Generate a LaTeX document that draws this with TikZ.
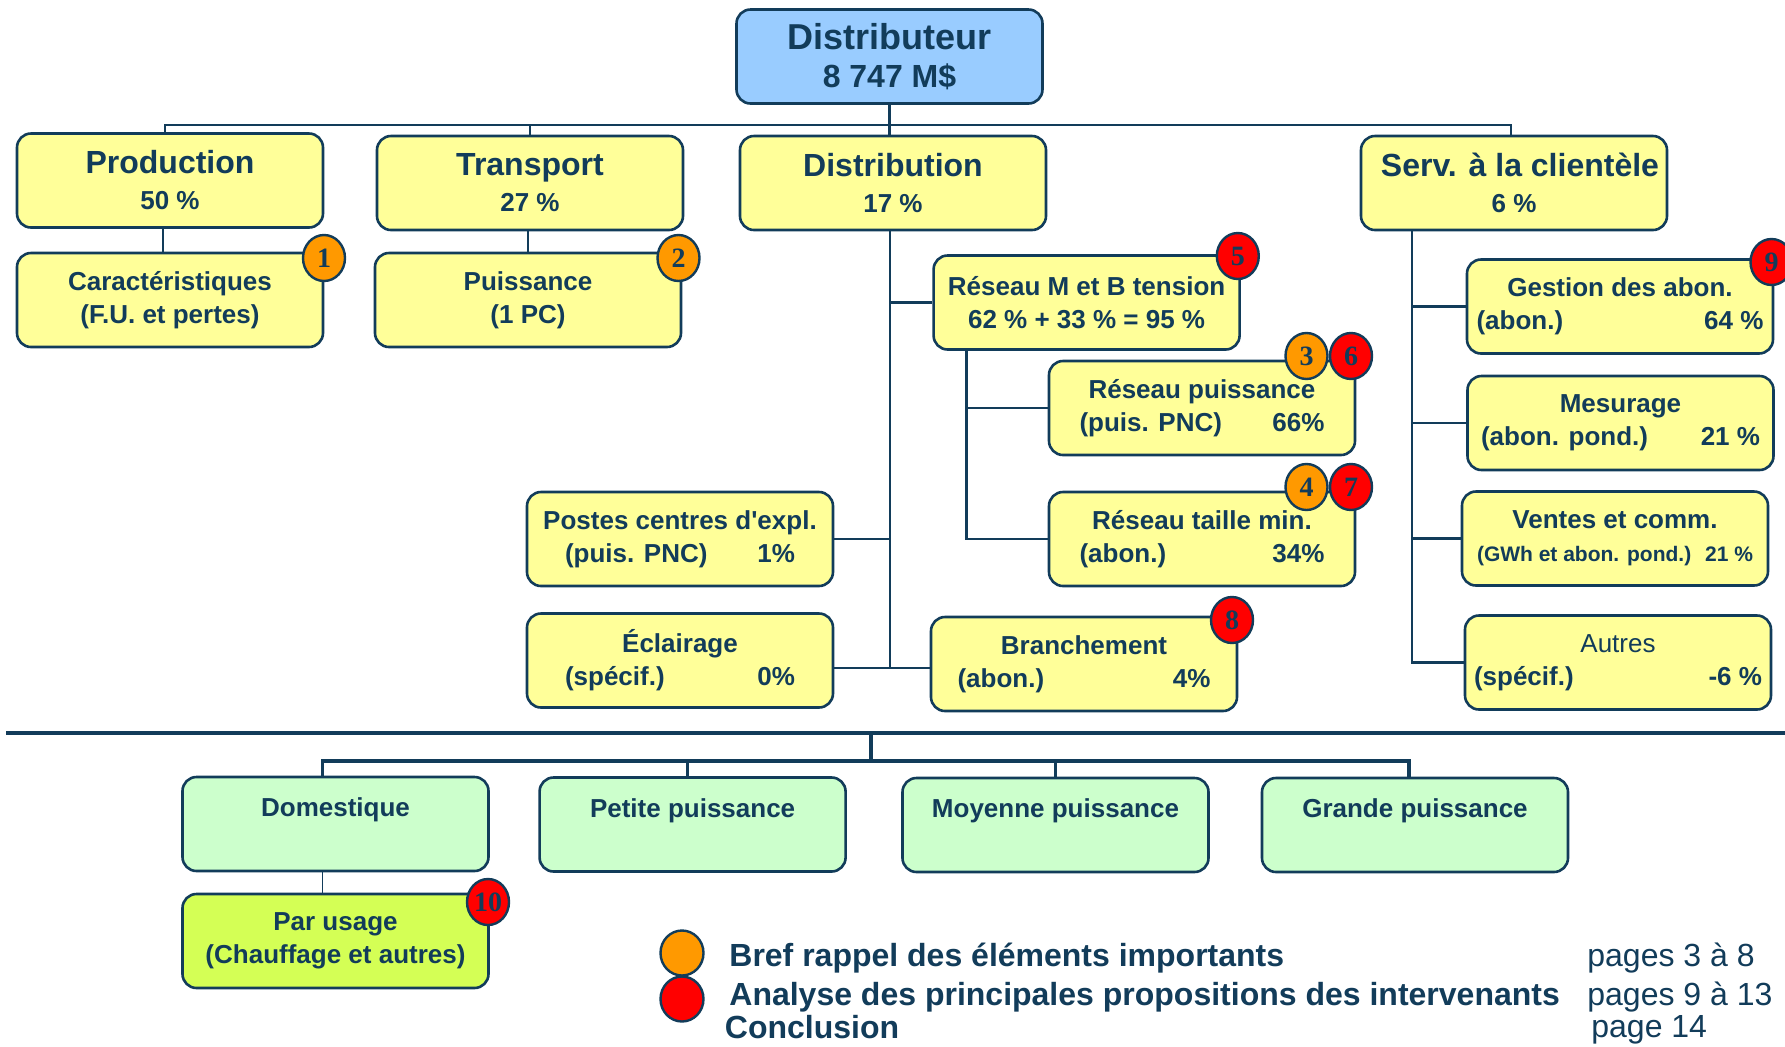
\documentclass[tikz,border=0pt]{standalone}
\usepackage{fontspec}
\setmainfont{Liberation Sans}
\newfontfamily\numfont{Liberation Serif}
\usetikzlibrary{positioning,shapes.geometric}
\definecolor{navy}{RGB}{18,60,90}
\definecolor{boxyellow}{RGB}{255,255,153}
\definecolor{boxblue}{RGB}{153,204,255}
\definecolor{boxgreen}{RGB}{204,255,204}
\definecolor{boxlime}{RGB}{212,255,85}
\definecolor{dotorange}{RGB}{255,153,0}
\definecolor{dotred}{RGB}{255,0,0}
\newcommand{\lr}[3]{\hbox to #1{#2\hfill #3}}
\newcommand{\hd}[1]{{\fontsize{16}{18}\selectfont #1}}

\begin{document}
\begin{tikzpicture}[x=0.5pt,y=-0.5pt,on grid,
every node/.style={text=navy},
box/.style={draw=navy,line width=1.3pt,rounded corners=7pt,fill=boxyellow,minimum width=153pt,minimum height=47pt,
  align=center,inner sep=2pt,font=\fontsize{13}{16.5}\selectfont\bfseries},
headbox/.style={box,font=\fontsize{13}{18}\selectfont\bfseries},
segbox/.style={box,fill=boxgreen},
link/.style={draw=navy,line width=1.2pt},
bus/.style={draw=navy,line width=1.8pt},
dot/.style={ellipse,draw=navy,line width=1.2pt,inner sep=0pt,minimum width=21pt,minimum height=23pt,
  font=\numfont\fontsize{14}{14}\selectfont\bfseries},
rappel/.style={dot,fill=dotorange},
analyse/.style={dot,fill=dotred},
legend/.style={anchor=base west,inner sep=0pt,font=\fontsize{16}{18}\selectfont\bfseries},
pages/.style={anchor=base west,inner sep=0pt,font=\fontsize{16}{18}\selectfont}]
\useasboundingbox[fill=white] (0,0) rectangle (1785,1046);

\node[box,fill=boxblue,font=\fontsize{16}{19}\selectfont\bfseries] (dist) at (889.5,56.5) {{\fontsize{18}{19}\selectfont Distributeur}\\8 747 M\$};
\node[headbox] (prod)  at (170,180.5) {\hd{Production}\\50 \%};
\node[headbox] (trans) at (530,183)   {\hd{Transport}\\27 \%};
\node[headbox] (distr) at (893,183)   {\hd{Distribution}\\17 \%};
\node[headbox] (serv)  at (1514,183)  {\hd{\hspace{6pt}Serv. à la clientèle}\\6 \%};

\node[box] (car)    at (170,300)      {Caractéristiques\\(F.U. et pertes)};
\node[box] (puis)   at (528,300)      {Puissance\\(1 PC)};
\node[box] (mbt)    at (1086.6,302.5) {Réseau M et B tension\\62 \% + 33 \% = 95 \%};
\node[box] (rpuis)  at (1202,408)     {Réseau puissance\\\lr{122.5pt}{(puis. PNC)}{66\%}};
\node[box] (rtai)   at (1202,539)     {Réseau taille min.\\\lr{122.5pt}{(abon.)}{34\%}};
\node[box] (postes) at (680,539)      {Postes centres d\textquotesingle expl.\\\lr{115pt}{(puis. PNC)}{1\%}};
\node[box] (ecl)    at (680,660.5)    {Éclairage\\\lr{115pt}{(spécif.)}{0\%}};
\node[box] (bran)   at (1084,664)     {Branchement\\\lr{126.5pt}{(abon.)}{4\%}};
\node[box] (gest)   at (1620,306.5)   {Gestion des abon.\\\lr{143.5pt}{(abon.)}{64 \%}};
\node[box] (mes)    at (1620.5,423)   {Mesurage\\\lr{139.5pt}{(abon. pond.)}{21 \%}};
\node[box] (vent)   at (1615,538.5)   {Ventes et comm.\\{\fontsize{10.5}{12}\selectfont\lr{138pt}{(GWh et abon. pond.)}{21 \%}}};
\node[box] (autres) at (1618,662.5)   {{\mdseries Autres}\\\lr{144pt}{(spécif.)}{-6 \%}};

\node[segbox] (dom) at (335.5,824)  {Domestique\\\mbox{}};
\node[segbox] (pet) at (692.6,824.5){Petite puissance\\\mbox{}};
\node[segbox] (moy) at (1055.5,825) {Moyenne puissance\\\mbox{}};
\node[segbox] (gra) at (1415,825)   {Grande puissance\\\mbox{}};
\node[box,fill=boxlime] (usage) at (335.5,941) {Par usage\\(Chauffage et autres)};

\node[rappel]  (b1) at (324,258)      {1};
\node[rappel]  (b2) at (678.5,258)    {2};
\node[analyse] (b5) at (1237.8,256)   {5};
\node[analyse] (b6) at (1351,356)     {6};
\node[rappel]  (b3) [left=22.25pt of b6] {3};
\node[analyse] (b7) at (1351,487)     {7};
\node[rappel]  (b4) [left=22.25pt of b7] {4};
\node[analyse] (b8) at (1232,620)     {8};
\node[analyse] (b9) at (1771.5,262)   {9};
\node[analyse] (b10) at (488,902)     {10};

\draw[link] (dist.south) -- ++(0,20) coordinate (hub);
\draw[link] ([xshift=-2.5pt]prod.north) |- (hub) -| ([xshift=-1.5pt]serv.north);
\draw[link] (trans.north) -- (trans.north |- hub);
\draw[link] (hub) -- (hub |- distr.north);
\draw[link] ([xshift=-3.5pt]prod.south) -- ([xshift=-3.5pt]car.north);
\draw[link] (puis.north) -- (puis.north |- trans.south);

\coordinate (dfoot) at (890,668);
\draw[link] (dfoot |- distr.south) -- (dfoot);
\draw[link] (dfoot |- mbt.west) -- (mbt.west);
\draw[link] (postes.east) -- (postes.east -| dfoot);
\draw[link] (ecl.east |- dfoot) -- (bran.west |- dfoot);

\coordinate (msub) at ([xshift=17pt]mbt.south west);
\draw[link] (msub) |- (rtai.west);
\draw[link] (msub |- rpuis.west) -- (rpuis.west);

\coordinate (ssub) at ([xshift=26pt]serv.south west);
\draw[link] (ssub) |- (autres.west);
\foreach \n in {gest,mes,vent}
  \draw[link] (ssub |- \n.west) -- (\n.west);

\coordinate (cust) at (871,733);
\draw[navy,line width=2.3pt] (6,733) -- (1785,733);
\draw[bus] (cust) -- ++(0,28) coordinate (bhub);
\draw[bus] ([xshift=-6.5pt]dom.north) |- (bhub) -| ([xshift=-3pt]gra.north);
\draw[bus] ([xshift=-2.5pt]pet.north) -- ([xshift=-2.5pt]pet.north |- bhub);
\draw[bus] (moy.north) -- (moy.north |- bhub);
\draw[link,line width=0.9pt] ([xshift=-6.5pt]dom.south) -- ([xshift=-6.5pt]usage.north);

\node[rappel,minimum width=21.5pt,minimum height=22.5pt]  (lrap) at (682,953) {};
\node[analyse,minimum width=21.5pt,minimum height=22.5pt] (lana) at (682,999) {};
\node[legend] (trap) at (729,966)   {Bref rappel des éléments importants};
\node[legend] (tana) at (729,1005)  {Analyse des principales propositions des intervenants};
\node[legend] (tcon) at (724.5,1038){Conclusion};
\node[pages]  (prap) at (1587,966)  {pages 3 à 8};
\node[pages]  (pana) at (1587,1005) {pages 9 à 13};
\node[pages]  (pcon) at (1591,1037) {page 14};
\end{tikzpicture}
\end{document}
